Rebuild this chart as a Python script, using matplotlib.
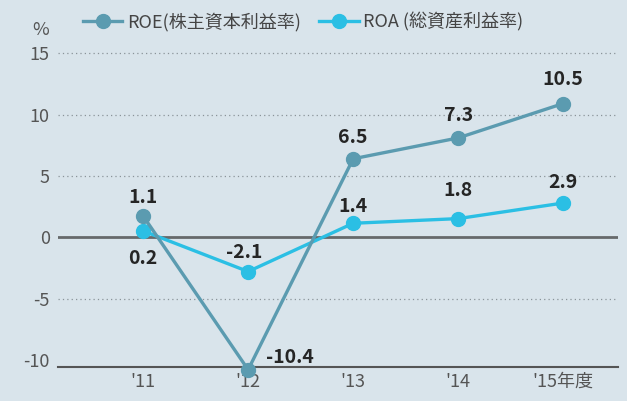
import numpy as np
import matplotlib.pyplot as plt

plt.rcParams['font.family'] = ['Noto Sans CJK JP', 'DejaVu Sans']

years = ["'11", "'12", "'13", "'14", "'15年度"]
# plotted positions
roe = [1.75, -10.77, 6.4, 8.1, 10.9]
roa = [0.53, -2.78, 1.15, 1.53, 2.8]
# printed labels
roe_labels = ['1.1', '-10.4', '6.5', '7.3', '10.5']
roa_labels = ['0.2', '-2.1', '1.4', '1.8', '2.9']

bg = '#d9e4eb'
c_roe = '#5b9bb0'
c_roa = '#2bbfe4'

fig = plt.figure(figsize=(6.27, 4.01), dpi=100, facecolor=bg)
ax = fig.add_axes([0.0925, 0.0848, 0.893, 0.798])
ax.set_facecolor(bg)

x = np.arange(len(years))
ax.set_xlim(-0.81, 4.52)
ax.set_ylim(-10.55, 15.5)

for yv in [-5, 5, 10, 15]:
    ax.axhline(yv, color='#8a9499', lw=0.9, ls=(0, (1, 2.5)), zorder=1)
ax.axhline(0, color='#66696b', lw=2, zorder=2)

ax.plot(x, roe, color=c_roe, lw=2.4, marker='o', ms=10, zorder=4, clip_on=False,
        label='ROE(株主資本利益率)')
ax.plot(x, roa, color=c_roa, lw=2.4, marker='o', ms=10, zorder=3, clip_on=False,
        label='ROA (総資産利益率)')

roe_off = [(0, 13), (30, 9), (0, 15), (0, 16), (0, 17)]
roa_off = [(0, -20), (-3, 14), (0, 12), (0, 20), (0, 15)]
for i in range(len(x)):
    ax.annotate(roe_labels[i], (x[i], roe[i]), xytext=roe_off[i], textcoords='offset points',
                ha='center', va='center', fontsize=14, fontweight='semibold', color='#252525',
                annotation_clip=False)
    ax.annotate(roa_labels[i], (x[i], roa[i]), xytext=roa_off[i], textcoords='offset points',
                ha='center', va='center', fontsize=14, fontweight='semibold', color='#252525',
                annotation_clip=False)

ax.set_xticks(x)
ax.set_xticklabels(years, fontsize=13, color='#555555')
ax.set_yticks([-10, -5, 0, 5, 10, 15])
ax.set_yticklabels(['-10', '-5', '0', '5', '10', '15'], fontsize=13, color='#555555')
ax.tick_params(length=0, pad=6)
ax.tick_params(axis='x', pad=4)

for s in ['top', 'right', 'left']:
    ax.spines[s].set_visible(False)
ax.spines['bottom'].set_color('#555555')
ax.spines['bottom'].set_linewidth(1.5)

fig.text(0.064, 0.925, '%', fontsize=13, color='#555555', ha='center', va='center')

ax.legend(loc='center left', bbox_to_anchor=(0.015, 1.078), ncol=2, frameon=False,
          fontsize=13, handlelength=2.2, columnspacing=1.0, handletextpad=0.25,
          labelcolor='#444444')

fig.savefig('out.png', dpi=100, facecolor=bg)
